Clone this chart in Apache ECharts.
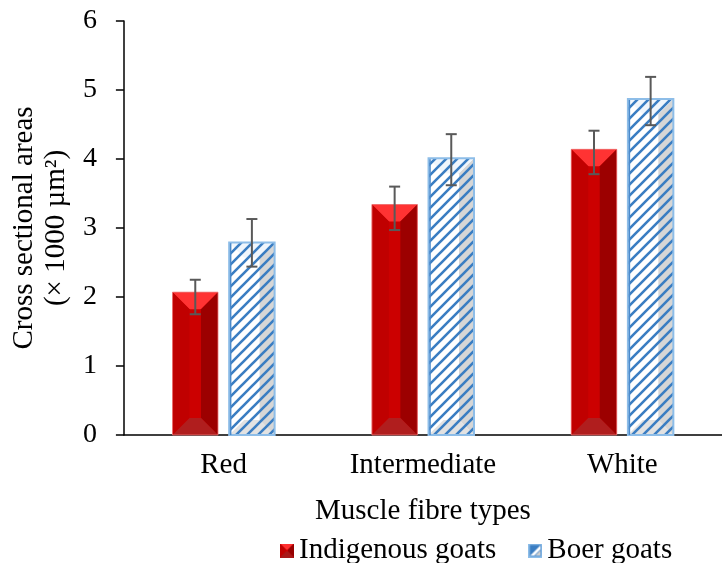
<!DOCTYPE html>
<html>
<head>
<meta charset="utf-8">
<script src="https://cdn.jsdelivr.net/npm/echarts@6/dist/echarts.min.js"></script>
<style>html,body{margin:0;padding:0;background:#fff;}#c{width:722px;height:563px;}</style>
</head>
<body>
<div id="c"></div>
<script>
// ---- data ----
const categories = ['Red', 'Intermediate', 'White'];
const seriesNames = ['Indigenous goats', 'Boer goats'];
const indigenousMean = [2.07, 3.34, 4.14];
const indigenousErrLow = [1.75, 2.97, 3.78];
const indigenousErrHigh = [2.25, 3.60, 4.41];
const boerMean = [2.79, 4.01, 4.87];
const boerErrLow = [2.44, 3.62, 4.49];
const boerErrHigh = [3.13, 4.36, 5.19];
const yTicks = [0, 1, 2, 3, 4, 5, 6];
const xTitle = 'Muscle fibre types';
const yTitle = 'Cross sectional areas\n(× 1000 µm²)';

const FONT = "'Liberation Serif', 'Times New Roman', serif";

// stripe pattern for Boer bars
function stripeCanvas() {
  const s = 11, c = document.createElement('canvas');
  c.width = s; c.height = s;
  const g = c.getContext('2d');
  g.strokeStyle = '#3A7DC2';
  g.lineWidth = 2.6;
  g.beginPath();
  g.moveTo(-2, s + 2); g.lineTo(s + 2, -2);
  g.moveTo(-2, 2); g.lineTo(2, -2);
  g.moveTo(s - 2, s + 2); g.lineTo(s + 2, s - 2);
  g.stroke();
  return c;
}
const stripes = stripeCanvas();

function redIcon() {
  const s = 14, b = 6, c = document.createElement('canvas');
  c.width = s; c.height = s;
  const g = c.getContext('2d');
  const poly = (pts, col) => { g.fillStyle = col; g.beginPath(); g.moveTo(pts[0][0], pts[0][1]); pts.slice(1).forEach(p => g.lineTo(p[0], p[1])); g.closePath(); g.fill(); };
  poly([[0,0],[s,0],[s,s],[0,s]], '#CC0000');
  poly([[0,0],[s,0],[s-b,b],[b,b]], '#FF3030');
  poly([[0,0],[b,b],[b,s-b],[0,s]], '#C00000');
  poly([[s,0],[s,s],[s-b,s-b],[s-b,b]], '#960000');
  poly([[0,s],[b,s-b],[s-b,s-b],[s,s]], '#A81818');
  return c.toDataURL();
}
function blueIcon() {
  const s = 14, c = document.createElement('canvas');
  c.width = s; c.height = s;
  const g = c.getContext('2d');
  g.fillStyle = '#3A7DC2'; g.fillRect(0, 0, s, s);
  g.fillStyle = '#FFFFFF';
  g.beginPath(); g.moveTo(2, s - 2); g.lineTo(s - 2, 2); g.lineTo(s - 2, 6); g.lineTo(6, s - 2); g.closePath(); g.fill();
  g.fillStyle = '#D0D0D0';
  g.beginPath(); g.moveTo(s - 2, 7); g.lineTo(s - 2, s - 2); g.lineTo(7, s - 2); g.closePath(); g.fill();
  g.strokeStyle = '#8DBDE8'; g.lineWidth = 1.5; g.strokeRect(0.75, 0.75, s - 1.5, s - 1.5);
  return c.toDataURL();
}

function errorBar(cx, yLo, yHi) {
  const st = { stroke: '#595959', lineWidth: 2 };
  return [
    { type: 'line', shape: { x1: cx, y1: yLo, x2: cx, y2: yHi }, style: st },
    { type: 'line', shape: { x1: cx - 5.5, y1: yHi, x2: cx + 5.5, y2: yHi }, style: st },
    { type: 'line', shape: { x1: cx - 5.5, y1: yLo, x2: cx + 5.5, y2: yLo }, style: st }
  ];
}

function makeRender(kind) {
  return function (params, api) {
    const idx = api.value(0);
    const top = api.coord([idx, api.value(1)]);
    const base = api.coord([idx, 0]);
    const lo = api.coord([idx, api.value(2)]);
    const hi = api.coord([idx, api.value(3)]);
    const band = api.size([1, 0])[0];
    const w = band * 0.228;
    const off = band * 0.142;
    const cx = kind === 0 ? top[0] - off : top[0] + off;
    const x0 = cx - w / 2, x1 = cx + w / 2, yT = top[1], yB = base[1];
    const children = [];
    const poly = (pts, fill) => children.push({ type: 'polygon', shape: { points: pts }, style: { fill: fill } });
    if (kind === 0) {
      const b = 17;
      poly([[x0,yT],[x1,yT],[x1,yB],[x0,yB]], '#CC0000');
      poly([[x0,yT],[x1,yT],[x1-b,yT+b],[x0+b,yT+b]], '#FF3333');
      poly([[x0,yT],[x0+b,yT+b],[x0+b,yB-b],[x0,yB]], '#C00000');
      poly([[x1,yT],[x1,yB],[x1-b,yB-b],[x1-b,yT+b]], '#9C0000');
      poly([[x0,yB],[x0+b,yB-b],[x1-b,yB-b],[x1,yB]], '#B01E1E');
      children.push({ type: 'rect', shape: { x: x0, y: yT, width: w, height: yB - yT }, style: { fill: null, stroke: 'rgba(240,120,120,0.8)', lineWidth: 1 } });
    } else {
      const b = 15;
      poly([[x0,yT],[x1,yT],[x1,yB],[x0,yB]], '#FFFFFF');
      poly([[x1,yT],[x1,yB],[x1-b,yB-b],[x1-b,yT+b]], '#D6D6D6');
      poly([[x0,yB],[x0+b,yB-b],[x1-b,yB-b],[x1,yB]], '#E2E2E2');
      poly([[x0,yT],[x1,yT],[x1-b,yT+b],[x0+b,yT+b]], '#F0F6FC');
      children.push({ type: 'rect', shape: { x: x0, y: yT, width: w, height: yB - yT }, style: { fill: { image: stripes, repeat: 'repeat' } } });
      children.push({ type: 'rect', shape: { x: x0, y: yT, width: w, height: yB - yT }, style: { fill: null, stroke: '#8DBDE8', lineWidth: 2 } });
      children.push({ type: 'line', shape: { x1: x0 + 1.5, y1: yT + 1, x2: x0 + 1.5, y2: yB }, style: { stroke: '#4A8ACB', lineWidth: 1.5 } });
    }
    errorBar(cx, lo[1], hi[1]).forEach(e => children.push(e));
    return { type: 'group', children: children };
  };
}

const chart = echarts.init(document.getElementById('c'), null, { renderer: 'canvas' });
chart.setOption({
  animation: false,
  backgroundColor: '#FFFFFF',
  grid: { left: 119, right: -9, top: 21, bottom: 128, containLabel: false },
  legend: {
    left: 275, top: 531,
    itemWidth: 14, itemHeight: 14, itemGap: 32,
    textStyle: { fontFamily: FONT, fontSize: 29, color: '#000' },
    data: [
      { name: seriesNames[0], icon: 'image://' + redIcon() },
      { name: seriesNames[1], icon: 'image://' + blueIcon() }
    ]
  },
  xAxis: {
    type: 'category',
    data: categories,
    name: xTitle,
    nameLocation: 'middle',
    nameGap: 62,
    nameTextStyle: { fontFamily: FONT, fontSize: 29, color: '#000' },
    axisLine: { lineStyle: { color: '#000', width: 1.5 } },
    axisTick: { alignWithLabel: true, length: 6, lineStyle: { color: '#000', width: 1.5 } },
    axisLabel: { fontFamily: FONT, fontSize: 29, color: '#000', margin: 16 },
    splitLine: { show: false }
  },
  yAxis: {
    type: 'value',
    min: yTicks[0], max: yTicks[yTicks.length - 1], interval: 1,
    name: yTitle,
    nameLocation: 'middle',
    nameRotate: 90,
    nameGap: 48,
    nameTextStyle: { fontFamily: FONT, fontSize: 29, color: '#000', lineHeight: 32 },
    axisLine: { show: true, lineStyle: { color: '#000', width: 1.5 } },
    axisTick: { show: true, length: 8, lineStyle: { color: '#000', width: 1.5 } },
    axisLabel: { fontFamily: FONT, fontSize: 28, color: '#000', margin: 27 },
    splitLine: { show: false }
  },
  series: [
    {
      name: seriesNames[0], type: 'custom', renderItem: makeRender(0),
      encode: { x: 0, y: [1, 2, 3] },
      itemStyle: { color: '#CC0000' },
      data: categories.map((c, i) => [i, indigenousMean[i], indigenousErrLow[i], indigenousErrHigh[i]])
    },
    {
      name: seriesNames[1], type: 'custom', renderItem: makeRender(1),
      encode: { x: 0, y: [1, 2, 3] },
      itemStyle: { color: '#3A7DC2' },
      data: categories.map((c, i) => [i, boerMean[i], boerErrLow[i], boerErrHigh[i]])
    }
  ]
});
</script>
</body>
</html>
